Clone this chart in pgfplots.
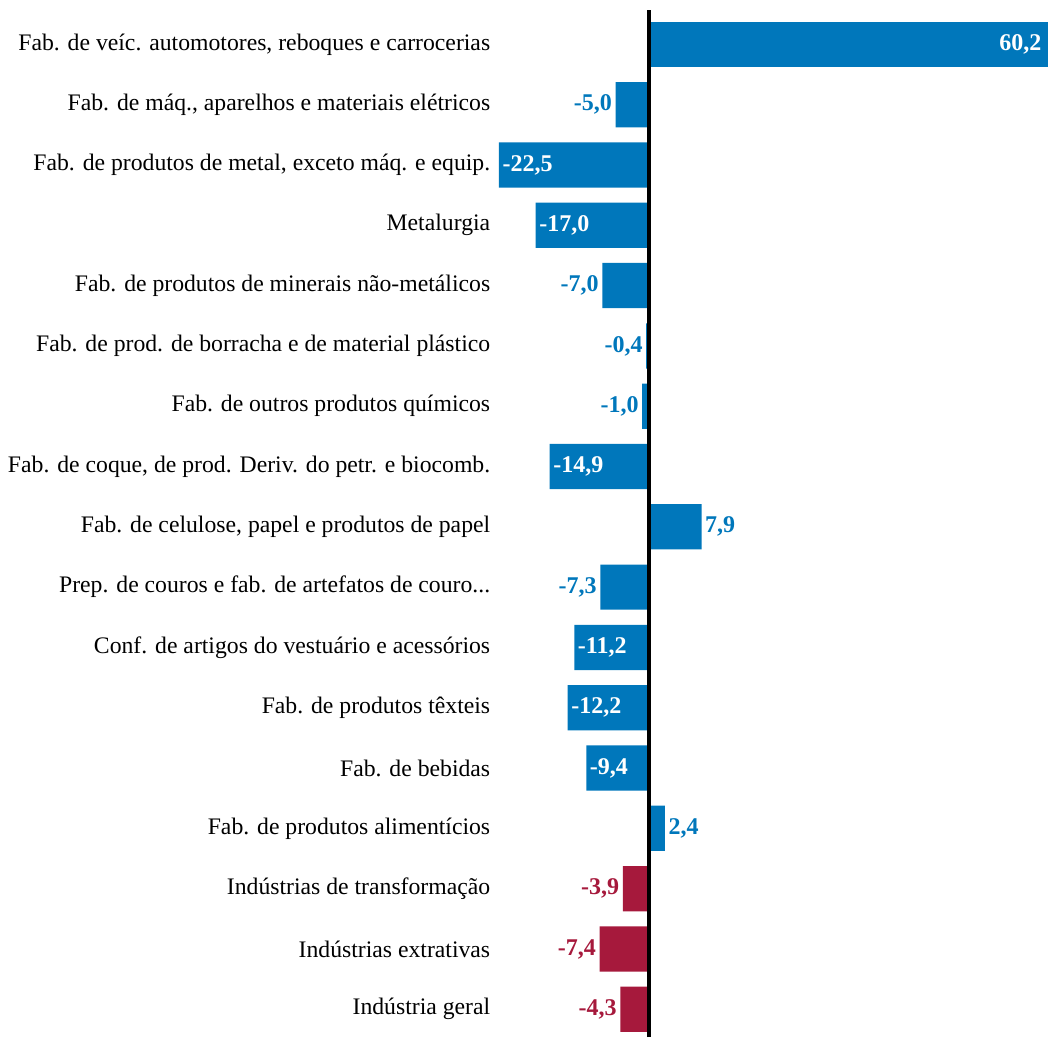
\documentclass[border=0pt]{standalone}
\usepackage{fontspec}
\setmainfont{Liberation Serif}
\usepackage{pgfplots}
\pgfplotsset{compat=1.18}
\definecolor{cblue}{RGB}{0,119,187}
\definecolor{cred}{RGB}{166,25,60}
\begin{document}
\begin{tikzpicture}[x=1pt,y=1pt]
\begin{axis}[
  scale only axis,
  width=551pt, height=1027pt,
  at={(0,0)}, anchor=south west,
  xbar, bar width=0.75, bar shift=0pt,
  xmin=-22.5, xmax=60.2,
  ymin=-0.46, ymax=16.57,
  hide x axis,
  axis y line*=left,
  y axis line style={draw=none},
  ytick={0,1,2,3,4,5,6,7,8,9,10,11,12,13,14,15,16},
  yticklabels={Indústria geral, Indústrias extrativas, Indústrias de transformação, Fab. de produtos alimentícios, Fab. de bebidas, Fab. de produtos têxteis, Conf. de artigos do vestuário e acessórios, {Prep. de couros e fab. de artefatos de couro.\kern0pt.\kern0pt.}, {Fab. de celulose, papel e produtos de papel}, {Fab. de coque, de prod. Deriv. do petr. e biocomb.}, Fab. de outros produtos químicos, Fab. de prod. de borracha e de material plástico, Fab. de produtos de minerais não-metálicos, Metalurgia, {Fab. de produtos de metal, exceto máq. e equip.}, {Fab. de máq., aparelhos e materiais elétricos}, {Fab. de veíc. automotores, reboques e carrocerias}},
  ytick style={draw=none},
  yticklabel style={font=\fontsize{23.7}{27}\selectfont, text=black},
  y tick label style={xshift=-1pt},
  nodes near coords={\pgfmathprintnumber[assume math mode=true]{\pgfplotspointmeta}},
  /pgf/number format/.cd, fixed, fixed zerofill, precision=1, use comma, 1000 sep={},
  /pgfplots/.cd,
  every node near coord/.append style={font=\bfseries\fontsize{24}{27}\selectfont, inner sep=3.5pt},
  clip=false,
]
% blue, labels outside
\addplot[fill=cblue, draw=none, every node near coord/.append style={text=cblue}] coordinates {
 (2.4,3) (-7.3,7) (7.9,8) (-1.0,10) (-0.4,11) (-7.0,12) (-5.0,15)
};
% blue, labels inside (negative)
\addplot[fill=cblue, draw=none, every node near coord/.append style={text=white, anchor=west}] coordinates {
 (-9.4,4) (-12.2,5) (-11.2,6) (-14.9,9) (-17.0,13) (-22.5,14)
};
% blue, label inside (positive)
\addplot[fill=cblue, draw=none, every node near coord/.append style={text=white, anchor=east, xshift=-5pt}] coordinates {
 (60.2,16)
};
% red
\addplot[fill=cred, draw=none, every node near coord/.append style={text=cred}] coordinates {
 (-4.3,0) (-7.4,1) (-3.9,2)
};
\draw[black, line width=4pt] (axis cs:0,-0.46) -- (axis cs:0,16.57);
\end{axis}
\pgfresetboundingbox
\path[use as bounding box] (-499pt,0pt) rectangle (549pt,1037pt);
\end{tikzpicture}
\end{document}
